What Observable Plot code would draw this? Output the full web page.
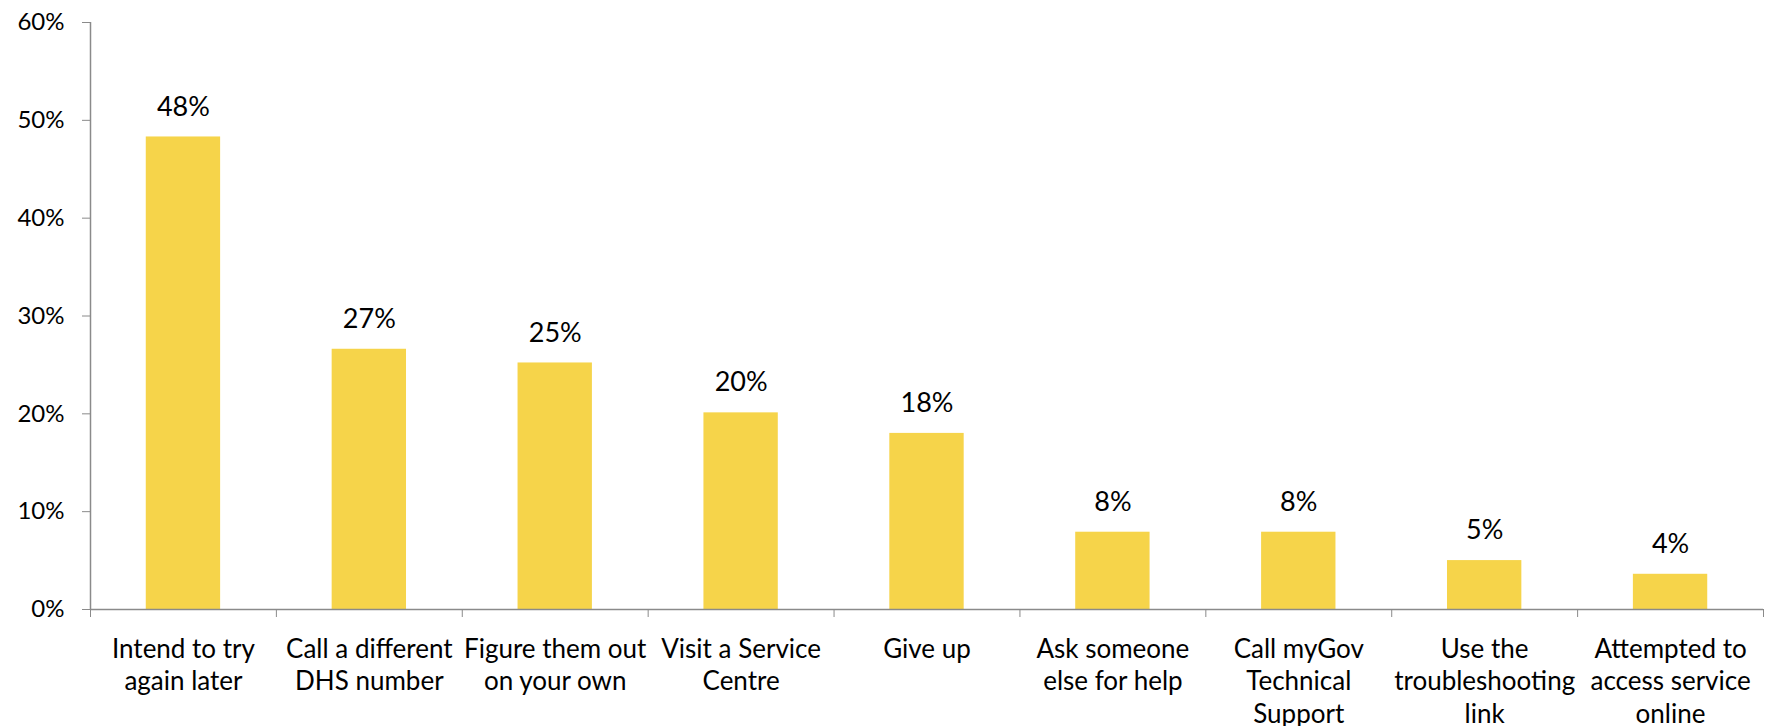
<!DOCTYPE html>
<html>
<head>
<meta charset="utf-8">
<script src="https://cdn.jsdelivr.net/npm/d3@7"></script>
<script src="https://cdn.jsdelivr.net/npm/@observablehq/plot@0.6"></script>
<style>
  html, body { margin: 0; padding: 0; background: #fff; }
  #chart svg { display: block; }
</style>
</head>
<body>
<div id="chart"></div>
<script>
const categories = [
  "Intend to try\nagain later",
  "Call a different\nDHS number",
  "Figure them out\non your own",
  "Visit a Service\nCentre",
  "Give up",
  "Ask someone\nelse for help",
  "Call myGov\nTechnical\nSupport",
  "Use the\ntroubleshooting\nlink",
  "Attempted to\naccess service\nonline"
];
const values = [0.483, 0.266, 0.252, 0.201, 0.180, 0.079, 0.079, 0.050, 0.036];
const yTicks = [0, 0.1, 0.2, 0.3, 0.4, 0.5, 0.6];

const data = categories.map((c, i) => ({i, cat: c, value: values[i]}));
const pct = d3.format(".0%");
const FONT = "Lato, 'Open Sans', sans-serif";
const AXIS = "#8a8a8a";

const chart = Plot.plot({
  width: 1765,
  height: 726,
  marginLeft: 90,
  marginRight: 2,
  marginTop: 22,
  marginBottom: 117,
  style: {fontFamily: FONT, fontSize: "24px", color: "#000", background: "#fff", overflow: "visible"},
  x: {type: "linear", domain: [0, categories.length]},
  y: {domain: [0, 0.6]},
  marks: [
    Plot.rectY(data, {x1: d => d.i + 0.3, x2: d => d.i + 0.7, y1: 0, y2: "value", fill: "#F6D44A"}),
    Plot.ruleX([0], {y1: 0, y2: 0.6, stroke: AXIS, strokeWidth: 1.5}),
    Plot.ruleY([0], {stroke: AXIS, strokeWidth: 1.5}),
    Plot.axisY({ticks: yTicks, tickFormat: pct, tickSize: 8, tickPadding: 18, stroke: AXIS, fill: "#000", fontSize: 24, label: null}),
    Plot.axisX({ticks: d3.range(categories.length + 1), tickSize: 8, tickFormat: () => "", stroke: AXIS, label: null}),
    Plot.text(data, {x: d => d.i + 0.5, y: "value", text: d => pct(d.value), dy: -30, fontSize: 27, fill: "#000"}),
    Plot.text(data, {x: d => d.i + 0.5, y: 0, text: "cat", lineAnchor: "top", dy: 25, lineHeight: 1.25, fontSize: 26, fill: "#000"})
  ]
});
document.getElementById("chart").appendChild(chart);
</script>
</body>
</html>
